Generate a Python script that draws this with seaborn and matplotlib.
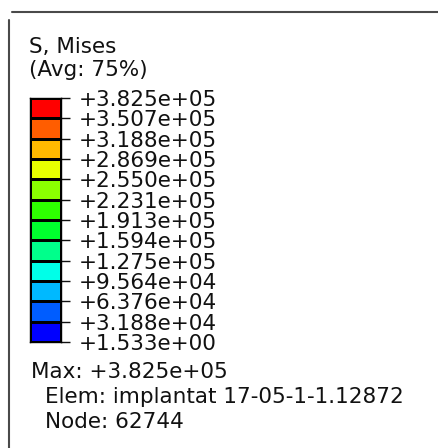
import numpy as np
import matplotlib
matplotlib.use('Agg')
import matplotlib.pyplot as plt
import seaborn as sns
from matplotlib.colors import ListedColormap
from matplotlib.lines import Line2D

# --- Data ---
tick_labels = ['+3.825e+05', '+3.507e+05', '+3.188e+05', '+2.869e+05',
               '+2.550e+05', '+2.231e+05', '+1.913e+05', '+1.594e+05',
               '+1.275e+05', '+9.564e+04', '+6.376e+04', '+3.188e+04',
               '+1.533e+00']
# colours from lowest to highest level
level_colors = ['#0000FF', '#005DFF', '#00B9FF', '#00FFE8', '#00FF8B', '#00FF2E',
                '#2EFF00', '#8BFF00', '#E8FF00', '#FFB900', '#FF5D00', '#FF0000']
title_lines = ['S, Mises', '(Avg: 75%)']
max_line = 'Max: +3.825e+05'
info_lines = ['Elem: implantat 17-05-1-1.12872', 'Node: 62744']

W, H = 438, 448
FS = 15.5
TXT = '#111111'

sns.set_style('white')
plt.rcParams['font.family'] = ['DejaVu Sans']

fig = plt.figure(figsize=(W / 100, H / 100), dpi=100)

def fx(px):
    return px / W

def fy(py):
    return 1 - py / H

# frame lines
fig.add_artist(Line2D([fx(12), fx(438)], [fy(12), fy(12)], color='#4a4a4a', lw=1.5))
fig.add_artist(Line2D([fx(9), fx(9)], [fy(20), fy(448)], color='#4a4a4a', lw=1.5))

# colour bar
n = len(level_colors)
ax = fig.add_axes([fx(30), fy(342), fx(61) - fx(30), (342 - 98) / H])
levels = np.arange(n)[::-1].reshape(-1, 1)
sns.heatmap(levels, ax=ax, cmap=ListedColormap(level_colors), vmin=-0.5, vmax=n - 0.5,
            cbar=False, linewidths=1, linecolor='black', xticklabels=False)
for s in ax.spines.values():
    s.set_visible(True)
    s.set_color('black')
    s.set_linewidth(1)
ax.set_yticks(np.arange(n + 1))
ax.set_yticklabels(tick_labels, rotation=0)
ax.yaxis.tick_right()
ax.tick_params(axis='y', which='both', right=True, left=False, length=6.5, width=1,
               pad=6, labelsize=FS, colors=TXT)
ax.tick_params(axis='x', bottom=False)

# text blocks
fig.text(fx(29), fy(53), title_lines[0], fontsize=FS, va='baseline', ha='left', color=TXT)
fig.text(fx(29), fy(76), title_lines[1], fontsize=FS, va='baseline', ha='left', color=TXT)
fig.text(fx(31), fy(378), max_line, fontsize=FS, va='baseline', ha='left', color=TXT)
fig.text(fx(45), fy(403), info_lines[0], fontsize=FS, va='baseline', ha='left', color=TXT)
fig.text(fx(45), fy(428), info_lines[1], fontsize=FS, va='baseline', ha='left', color=TXT)

fig.savefig('out.png', dpi=100, facecolor='white')
